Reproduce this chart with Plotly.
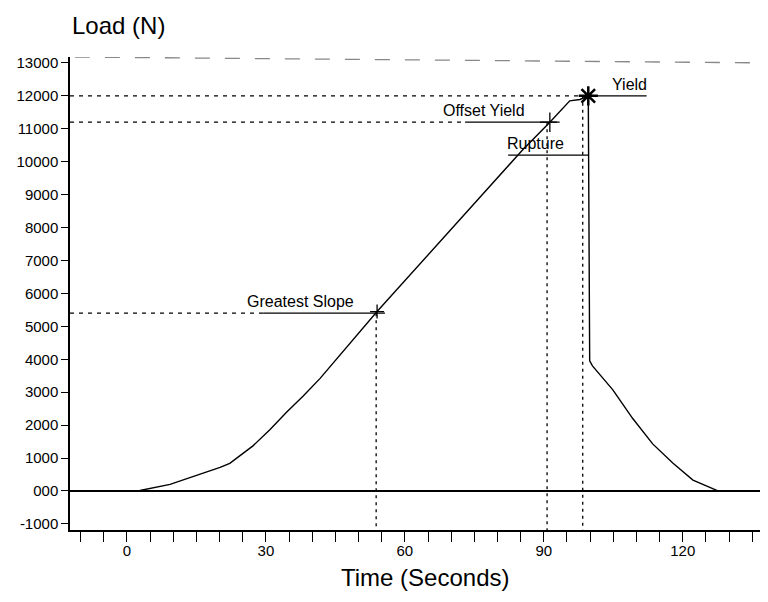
import plotly.graph_objects as go

# load curve (time in s, load in N)
time_s = [0, 2.8, 9.3, 15.1, 20.1, 22.2, 27.2, 30.9, 34.5, 38.0, 41.7, 54.0, 70.0,
          85.3, 91.3, 94.0, 95.6, 97.8, 99.6, 99.9, 100.5, 104.9, 109.2, 113.5,
          117.9, 122.2, 126.5, 127.6]
load_n = [0, 15, 200, 470, 715, 840, 1370, 1870, 2400, 2880, 3420, 5450, 7960,
          10340, 11200, 11620, 11850, 11890, 12000, 3950, 3800, 3070, 2200, 1430,
          840, 330, 80, 0]

# marked events
event_labels = ["Greatest Slope", "Offset Yield", "Rupture", "Yield"]
event_time = [53.8, 90.7, 98.4, 99.6]
event_load = [5400, 11200, 10200, 12000]
# label text centre and underline start / end (s)
label_x = [37.4, 77.1, 88.3, 108.6]
label_start = [29.4, 73.0, 82.3, 99.6]
label_end = [55.7, 92.8, 99.7, 112.2]

y_ticks = list(range(-1000, 14000, 1000))
y_ticktext = ["000" if v == 0 else str(v) for v in y_ticks]
x_ticks = list(range(-10, 140, 5))
x_ticktext = [str(v) if v % 30 == 0 else "" for v in x_ticks]

X_MIN, X_MAX = -12.3, 138.4
Y_MIN, Y_MAX = -1185, 13180

# page body adds an 8px offset, so the figure is sized to fit inside it
W, H, PAD = 760, 594, 8

tick_font = dict(family="Liberation Sans, Arial", size=15, color="black")
label_font = dict(family="Liberation Sans, Arial", size=16, color="black")

fig = go.Figure()
fig.add_trace(go.Scatter(x=time_s, y=load_n, mode="lines",
                         line=dict(color="black", width=1.4), hoverinfo="skip"))

# guide lines for each event
for i, name in enumerate(event_labels):
    t, v = event_time[i], event_load[i]
    # solid underline beside the label
    fig.add_shape(type="line", x0=label_start[i], x1=label_end[i], y0=v, y1=v,
                  line=dict(color="black", width=1.3))
    fig.add_annotation(x=label_x[i], y=v, text=name, showarrow=False,
                       yanchor="bottom", yshift=1, font=label_font)
    if name in ("Greatest Slope", "Offset Yield"):
        fig.add_shape(type="line", x0=X_MIN, x1=label_start[i], y0=v, y1=v,
                      line=dict(color="black", width=1.2, dash="4px,5px"))
    if name == "Yield":
        fig.add_shape(type="line", x0=X_MIN, x1=event_time[2], y0=v, y1=v,
                      line=dict(color="black", width=1.2, dash="4px,5px"))
    else:
        top = event_load[3] if name == "Rupture" else v
        fig.add_shape(type="line", x0=t, x1=t, y0=top, y1=Y_MIN,
                      line=dict(color="black", width=1.3, dash="3px,4px"))

# point markers
fig.add_trace(go.Scatter(x=[54.0], y=[5450], mode="markers", hoverinfo="skip",
                         marker=dict(symbol="cross-thin-open", size=10, color="black",
                                     line=dict(color="black", width=1.3))))
fig.add_trace(go.Scatter(x=[91.3], y=[11200], mode="markers", hoverinfo="skip",
                         marker=dict(symbol="cross-thin-open", size=14, color="black",
                                     line=dict(color="black", width=1.3))))
fig.add_trace(go.Scatter(x=[99.6], y=[12000], mode="markers", hoverinfo="skip",
                         marker=dict(symbol="asterisk-open", size=16, color="black",
                                     line=dict(color="black", width=2.5))))

# faint broken top border from the scan
fig.add_shape(type="line", xref="paper", x0=0.007, x1=1, y0=Y_MAX, y1=13000,
              line=dict(color="#888888", width=1.3, dash="longdash"))

fig.add_annotation(xref="paper", yref="paper", x=0.509, y=-0.101, yanchor="middle",
                   text="Time (Seconds)", showarrow=False,
                   font=dict(family="Liberation Sans, Arial", size=24, color="black"))

fig.update_layout(
    width=W, height=H,
    margin=dict(l=70 - PAD, r=0, t=57 - PAD, b=72),
    paper_bgcolor="white", plot_bgcolor="white",
    showlegend=False,
    title=dict(text="Load (N)", x=(72 - PAD) / W, xanchor="left",
               y=1 - (26 - PAD) / H, yanchor="middle",
               font=dict(family="Liberation Sans, Arial", size=24, color="black")),
)
fig.update_xaxes(range=[X_MIN, X_MAX], tickvals=x_ticks, ticktext=x_ticktext,
                 ticks="outside", ticklen=10, tickwidth=1.2, tickcolor="black",
                 ticklabelstandoff=-4,
                 showline=True, linecolor="black", linewidth=1.5, automargin=False,
                 showgrid=False, zeroline=False, tickfont=tick_font)
fig.update_yaxes(range=[Y_MIN, Y_MAX], tickvals=y_ticks, ticktext=y_ticktext,
                 ticks="outside", ticklen=7, tickwidth=1.2, tickcolor="black",
                 showline=True, linecolor="black", linewidth=1.5, automargin=False,
                 showgrid=False, zeroline=True, zerolinecolor="black", zerolinewidth=1.6,
                 tickfont=tick_font)

fig.write_html("out.html")
